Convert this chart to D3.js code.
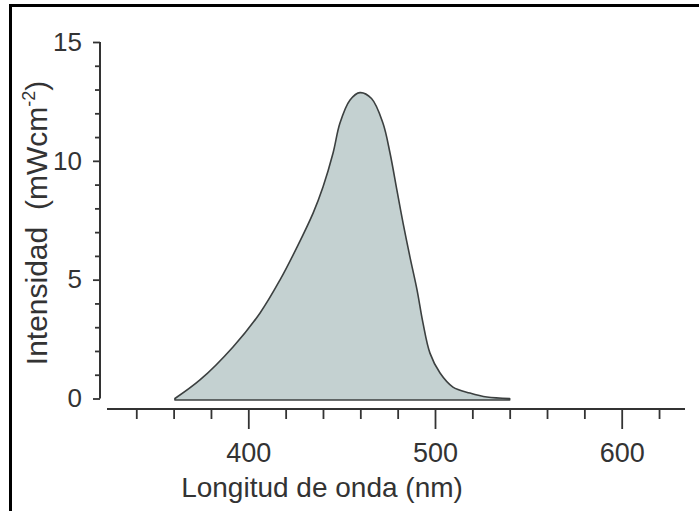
<!DOCTYPE html>
<html>
<head>
<meta charset="utf-8">
<script src="https://cdn.jsdelivr.net/npm/d3@7"></script>
<style>
  html, body { margin: 0; padding: 0; background: #fff; }
  svg { display: block; }
  text { font-family: "Liberation Sans", Arial, Helvetica, sans-serif; fill: #333; }
</style>
</head>
<body>
<svg id="chart" width="699" height="511"></svg>
<script>
// ---- data ----
const wavelength = [360.7, 374.1, 391.8, 406.3, 417.0, 426.1, 434.7, 440.0, 445.4, 449.1, 454.5, 459.8, 466.0, 472.1, 475.9, 479.6, 482.9, 486.6, 490.4, 493.5, 497.3, 502.7, 509.6, 518.7, 527.8, 540.0];
const intensity  = [0.0,   0.78,  2.17,  3.6,   4.99,  6.37,  7.80,  8.90,  10.33, 11.59, 12.56, 12.87, 12.62, 11.59, 10.33, 8.77,  7.38,  5.95,  4.56,  3.20,  1.91,  1.07,  0.48,  0.23,  0.06,  0.0];
const xMajorTicks = [400, 500, 600];
const xMinorTicks = [340, 360, 380, 420, 440, 460, 480, 520, 540, 560, 580, 620];
const yMajorTicks = [0, 5, 10, 15];
const yMinorTicks = [1, 2, 3, 4, 6, 7, 8, 9, 11, 12, 13, 14];
const xTitle = "Longitud de onda (nm)";
const yTitleMain = "Intensidad\u00A0\u00A0(mWcm";
const yTitleSup = "-2";
const yTitleEnd = ")";

// ---- scales ----
const x = d3.scaleLinear().domain([400, 500]).range([248.3, 435]);
const y = d3.scaleLinear().domain([0, 15]).range([398.5, 42]);

const svg = d3.select("#chart");
const ink = "#333";

// frame (top and left border)
svg.append("line").attr("x1", 9).attr("x2", 699).attr("y1", 5.5).attr("y2", 5.5)
  .attr("stroke", "#000").attr("stroke-width", 3);
svg.append("line").attr("x1", 10.5).attr("x2", 10.5).attr("y1", 4).attr("y2", 511)
  .attr("stroke", "#000").attr("stroke-width", 3);

// ---- area ----
const pts = wavelength.map((w, i) => [w, intensity[i]]);
const area = d3.area()
  .x(d => x(d[0]))
  .y0(y(0) + 1.5)
  .y1(d => Math.min(y(d[1]), y(0) + 1.5))
  .curve(d3.curveCatmullRom.alpha(0.5));
svg.append("path")
  .datum(pts)
  .attr("d", area)
  .attr("fill", "#c4d1d1")
  .attr("stroke", "#3c4040")
  .attr("stroke-width", 1.6)
  .attr("stroke-linejoin", "round");

// ---- x axis ----
const xAxisY = 409;
const gx = svg.append("g").attr("transform", `translate(0,${xAxisY})`);
gx.append("line").attr("x1", 107).attr("x2", 685).attr("y1", 0).attr("y2", 0)
  .attr("stroke", ink).attr("stroke-width", 2);
gx.call(g => {
  const minor = d3.axisBottom(x).tickValues(xMinorTicks).tickSize(10).tickFormat("");
  const gm = g.append("g").call(minor);
  gm.select(".domain").remove();
  gm.selectAll("line").attr("stroke", ink).attr("stroke-width", 1.8);
  const major = d3.axisBottom(x).tickValues(xMajorTicks).tickSize(20).tickPadding(14).tickFormat(d3.format("d"));
  const gM = g.append("g").call(major);
  gM.select(".domain").remove();
  gM.selectAll("line").attr("stroke", ink).attr("stroke-width", 1.8);
  gM.selectAll("text").attr("font-size", 27).attr("fill", ink)
    .attr("font-family", "'Liberation Sans', Arial, sans-serif");
});

// ---- y axis ----
const yAxisX = 100;
const gy = svg.append("g").attr("transform", `translate(${yAxisX},0)`);
gy.append("line").attr("x1", 0).attr("x2", 0).attr("y1", y(15)).attr("y2", y(0))
  .attr("stroke", ink).attr("stroke-width", 2);
gy.call(g => {
  const minor = d3.axisLeft(y).tickValues(yMinorTicks).tickSize(5).tickFormat("");
  const gm = g.append("g").call(minor);
  gm.select(".domain").remove();
  gm.selectAll("line").attr("stroke", ink).attr("stroke-width", 1.8);
  const major = d3.axisLeft(y).tickValues(yMajorTicks).tickSize(7).tickPadding(11).tickFormat(d3.format("d"));
  const gM = g.append("g").call(major);
  gM.select(".domain").remove();
  gM.selectAll("line").attr("stroke", ink).attr("stroke-width", 1.8);
  gM.selectAll("text").attr("font-size", 26).attr("fill", ink)
    .attr("font-family", "'Liberation Sans', Arial, sans-serif");
});

// ---- titles ----
svg.append("text")
  .attr("x", 322).attr("y", 497)
  .attr("text-anchor", "middle")
  .attr("font-size", 28)
  .text(xTitle);

const yt = svg.append("text")
  .attr("transform", "translate(47,223) rotate(-90)")
  .attr("text-anchor", "middle")
  .attr("font-size", 30);
yt.append("tspan").text(yTitleMain);
yt.append("tspan").attr("font-size", 18).attr("dy", -12).text(yTitleSup);
yt.append("tspan").attr("dy", 12).text(yTitleEnd);
</script>
</body>
</html>
